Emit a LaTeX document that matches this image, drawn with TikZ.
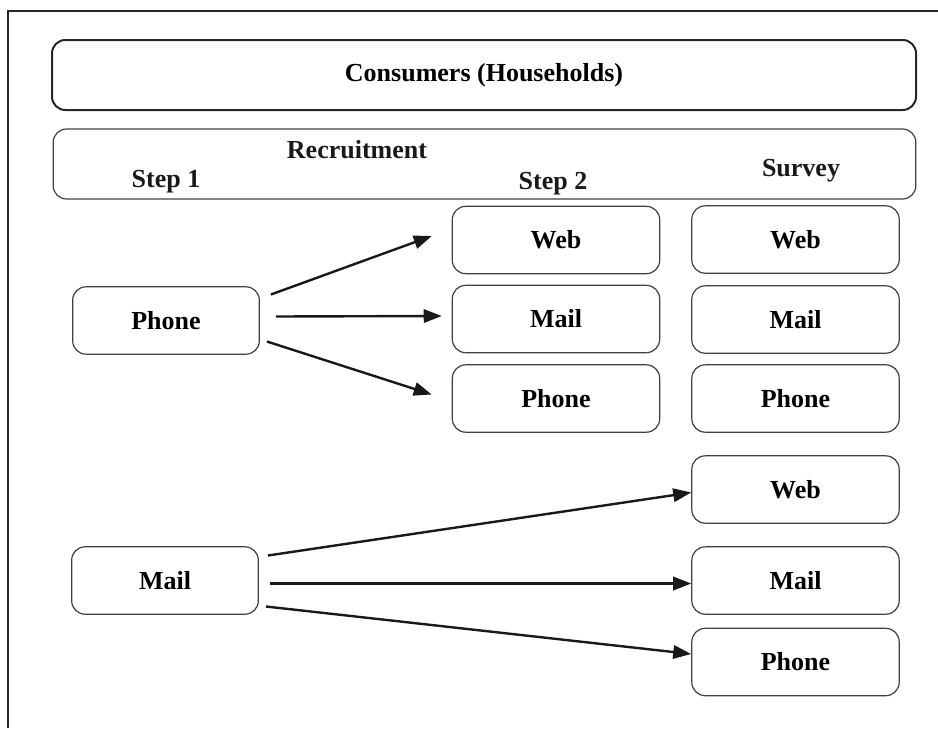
\documentclass[tikz,border=0pt]{standalone}
\usepackage{fontspec}
\setmainfont{Liberation Serif}
\usetikzlibrary{arrows.meta}
\begin{document}
\begin{tikzpicture}%
	[x={(0.75pt, 0pt)},
	y={(0pt, -0.75pt)},
	font=\fontsize{19.5}{23}\selectfont\bfseries,
	frame/.style={color=black!85, line width=1.5pt},
	header/.style={draw=black!85, line width=1.5pt, rounded corners=10pt, minimum width=648pt, minimum height=52.5pt},
	band/.style={draw=black!75, line width=0.9pt, rounded corners=10pt, minimum width=647pt, minimum height=52.5pt},
	mode/.style={draw=black!75, line width=0.9pt, rounded corners=10pt, minimum width=155.5pt, minimum height=50.5pt},
	firstmode/.style={mode, minimum width=140pt},
	label/.style={anchor=base, inner sep=0pt, color=black!90},
	arrow/.style={color=black!90, line width=1.8pt, -{Triangle[length=13.5pt, width=10pt]}}]
%
\useasboundingbox (0,0) rectangle (938,728);
%%
%% Drawing the frame
%%
\coordinate (frame-bl) at (8,728);
\coordinate (frame-tl) at (8,11);
\coordinate (frame-tr) at (938,11);
\draw[frame] (frame-bl) -- (frame-tl) -- (frame-tr);
%%
%% Drawing the headers
%%
\node[header] (consumers) at (484,75) {Consumers (Households)};
\node[band] (recruitment) at (484.5,164) {};
\node[label] (recruit-text) at (357,158) {Recruitment};
\node[label] (step1-text) at (166,187) {Step 1};
\node[label] (step2-text) at (553,189) {Step 2};
\node[label] (survey-text) at (801,176) {Survey};
%%
%% Drawing the step 1 boxes
%%
\node[firstmode] (phone1) at (166,320.5) {Phone};
\node[firstmode] (mail1) at (165,580.5) {Mail};
%%
%% Drawing the step 2 boxes
%%
\node[mode] (web2) at (556,240) {Web};
\node[mode] (mail2) at (556,319) {Mail};
\node[mode] (phone2) at (556,398.5) {Phone};
%%
%% Drawing the survey boxes
%%
\node[mode] (web3) at (795.5,239.5) {Web};
\node[mode] (mail3) at (795.5,319.5) {Mail};
\node[mode] (phone3) at (795.5,398.5) {Phone};
\node[mode] (web4) at (795.5,489.5) {Web};
\node[mode] (mail4) at (795.5,580.5) {Mail};
\node[mode] (phone4) at (795.5,662) {Phone};
%%
%% Drawing the arrows
%%
\draw[arrow] ([shift={(11,-26)}]phone1.east) -- ([shift={(-20,-4)}]web2.west);
\draw[arrow] ([shift={(16,-4)}]phone1.east) -- ([shift={(-10,-3)}]mail2.west);
\draw[arrow] ([shift={(7,21)}]phone1.east) -- ([shift={(-20,-4)}]phone2.west);
%
\draw[arrow] ([shift={(9,-25)}]mail1.east) -- ([shift={(0,3)}]web4.west);
\draw[arrow] ([shift={(11,3)}]mail1.east) -- ([shift={(0,3)}]mail4.west);
\draw[arrow] ([shift={(7,26)}]mail1.east) -- ([shift={(0,-8)}]phone4.west);
\end{tikzpicture}
\end{document}
